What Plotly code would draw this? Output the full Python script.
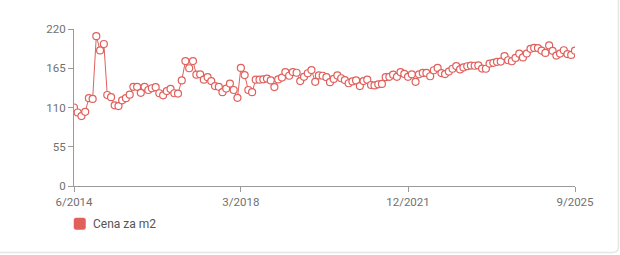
import pandas as pd
import plotly.graph_objects as go

# ---- data -------------------------------------------------------------
start_month = "2014-06-01"
end_month = "2025-09-01"
series_name = "Cena za m2"
prices = [
    110, 103, 98, 104, 123, 122, 210, 190, 199, 127.5,
    124.5, 113, 112, 120, 123, 128, 139, 139, 130.5, 139,
    134.5, 137, 138.5, 130, 127, 133, 136, 130, 129.5, 148,
    175, 165, 175, 156, 156.5, 149, 152.5, 147, 140, 139,
    131.5, 136.5, 143.5, 134.5, 123.5, 165.5, 155.5, 134.5, 131.5, 149,
    149, 149.5, 150.5, 148, 138.6, 149.3, 152, 159.6, 154.5, 159.6,
    158.7, 147, 153, 158, 162.4, 146, 155, 154.5, 152.5, 145.5,
    150, 155, 151, 148.5, 144, 146.5, 148, 140, 147, 149,
    141.5, 141, 142.5, 143, 152.5, 153, 156, 153, 159.5, 157,
    153, 156.5, 146, 156.5, 158.5, 158.5, 153.8, 162.2, 165.5, 158.2,
    156.8, 160.4, 164.3, 168, 163.4, 166.2, 167.8, 168.7, 168.5, 169,
    164.5, 164.3, 171.5, 172.6, 174, 174.3, 182, 176.2, 174.8, 179.5,
    185.4, 180.2, 185.6, 192.2, 193.5, 193.3, 189.8, 186.5, 197, 189.4,
    182.8, 185.6, 190.2, 184.9, 183.7, 189.6,
]
months = pd.date_range(start_month, end_month, freq="MS")
x_tick_dates = ["2014-06-01", "2018-03-01", "2021-12-01", "2025-09-01"]
x_tick_labels = ["6/2014", "3/2018", "12/2021", "9/2025"]
y_ticks = [0, 55, 110, 165, 220]

# ---- style ------------------------------------------------------------
RED = "#e0605c"
AXIS = "#9a9a9a"
TXT = "#707070"
FONT = "Roboto"
W, H = 620, 255
ML, MR, MT, MB = 74, 45, 29, 69
PW, PH = W - ML - MR, H - MT - MB


def px(xp):
    return (xp - ML) / PW


def py(yp):
    return (H - MB - yp) / PH


fig = go.Figure()
fig.add_trace(go.Scatter(
    x=months, y=prices, mode="lines+markers", name=series_name,
    line=dict(color=RED, width=1),
    marker=dict(symbol="circle", size=7, color="white",
                line=dict(color=RED, width=1.2)),
    showlegend=False, hoverinfo="x+y",
))

# card border (bottom/right with rounded corner)
r = 6
x_r, y_b = 618.5, 252.5
path = (f"M {px(-5)},{py(y_b)} L {px(x_r - r)},{py(y_b)} "
        f"Q {px(x_r)},{py(y_b)} {px(x_r)},{py(y_b - r)} "
        f"L {px(x_r)},{py(-5)}")
shapes = [dict(type="path", xref="paper", yref="paper", path=path,
               line=dict(color="#e6e6e6", width=1.5), layer="below")]

# legend key (rounded square) + label
lx0, lx1, ly0, ly1, rr = 74, 85.5, 218, 229.5, 2
lpath = (f"M {px(lx0 + rr)},{py(ly0)} L {px(lx1 - rr)},{py(ly0)} "
         f"Q {px(lx1)},{py(ly0)} {px(lx1)},{py(ly0 + rr)} "
         f"L {px(lx1)},{py(ly1 - rr)} Q {px(lx1)},{py(ly1)} {px(lx1 - rr)},{py(ly1)} "
         f"L {px(lx0 + rr)},{py(ly1)} Q {px(lx0)},{py(ly1)} {px(lx0)},{py(ly1 - rr)} "
         f"L {px(lx0)},{py(ly0 + rr)} Q {px(lx0)},{py(ly0)} {px(lx0 + rr)},{py(ly0)} Z")
shapes.append(dict(type="path", xref="paper", yref="paper", path=lpath,
                   fillcolor=RED, line=dict(color=RED, width=0.5)))

annotations = [dict(text=series_name, xref="paper", yref="paper",
                    x=px(90.5), y=py(224), xanchor="left", yanchor="middle",
                    showarrow=False, font=dict(family=FONT, size=12, color="#555555"))]

fig.update_layout(
    width=W, height=H,
    margin=dict(l=ML, r=MR, t=MT, b=MB, pad=0),
    paper_bgcolor="white", plot_bgcolor="white",
    font=dict(family=FONT, size=11.5, color=TXT),
    shapes=shapes, annotations=annotations,
    showlegend=False,
    xaxis=dict(
        type="date", range=[start_month, end_month],
        tickmode="array", tickvals=x_tick_dates, ticktext=x_tick_labels,
        showgrid=False, zeroline=False, showline=True, linecolor=AXIS, linewidth=1,
        ticks="outside", ticklen=5, tickcolor=AXIS, tickwidth=1,
        tickfont=dict(family=FONT, size=11.5, color=TXT),
    ),
    yaxis=dict(
        range=[0, 220], tickmode="array", tickvals=y_ticks,
        showgrid=False, zeroline=False, showline=True, linecolor=AXIS, linewidth=1,
        ticks="outside", ticklen=5, tickcolor=AXIS, tickwidth=1,
        tickfont=dict(family=FONT, size=11.5, color=TXT),
    ),
)

fig.write_html("out.html")
